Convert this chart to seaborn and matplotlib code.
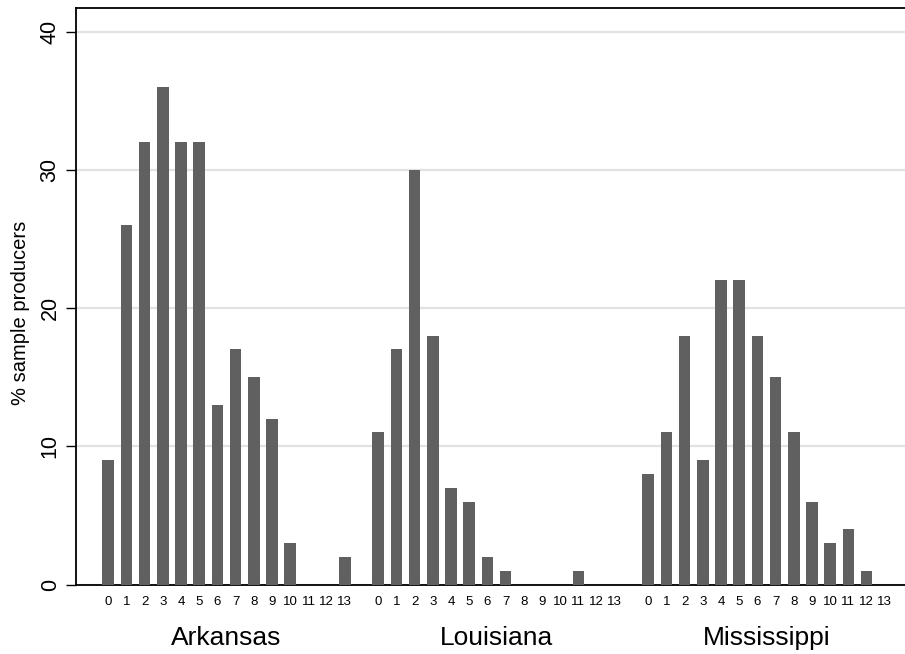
import numpy as np
import pandas as pd
import matplotlib
matplotlib.use("Agg")
import matplotlib.pyplot as plt
import matplotlib.transforms as mtransforms
import seaborn as sns

# ---- data ----
states = ["Arkansas", "Louisiana", "Mississippi"]
categories = ["0", "1", "2", "3", "4", "5", "6", "7", "8", "9", "10", "11", "12", "13"]
arkansas = [9, 26, 32, 36, 32, 32, 13, 17, 15, 12, 3, 0, 0, 2]
louisiana = [11, 17, 30, 18, 7, 6, 2, 1, 0, 0, 0, 1, 0, 0]
mississippi = [8, 11, 18, 9, 22, 22, 18, 15, 11, 6, 3, 4, 1, 0]
y_ticks = [0, 10, 20, 30, 40]
y_label = "% sample producers"

# ---- layout ----
group_offset = 14.83
rows = []
for gi, (st, vals) in enumerate(zip(states, [arkansas, louisiana, mississippi])):
    for ci, (cat, v) in enumerate(zip(categories, vals)):
        rows.append({"state": st, "cat": cat, "pos": gi * group_offset + ci, "value": v})
df = pd.DataFrame(rows)

sns.set_style("white")
plt.rcParams["font.family"] = ["Liberation Sans", "DejaVu Sans"]
for k in ["text.color", "axes.labelcolor", "xtick.color", "ytick.color"]:
    plt.rcParams[k] = "black"

W, H = 905, 654
fig = plt.figure(figsize=(W / 100, H / 100), dpi=100)
left_px, right_px, top_px, bottom_px = 76, 917, 8, 584.5
ax = fig.add_axes([left_px / W, (H - bottom_px) / H, (right_px - left_px) / W, (bottom_px - top_px) / H])

sns.barplot(data=df, x="pos", y="value", native_scale=True, width=0.64,
            color="#606060", saturation=1, edgecolor="none", errorbar=None, ax=ax, zorder=3)

ax.set_xlim(-1.77, 2 * group_offset + 13 + 1.77)
ax.set_ylim(0, 41.7)

ax.set_yticks(y_ticks)
ax.set_yticklabels([str(t) for t in y_ticks], rotation=90, va="center", fontsize=15.5)
ax.yaxis.grid(True, color="#e2e2e2", linewidth=1.6, zorder=0)
ax.xaxis.grid(False)
ax.set_axisbelow(True)
ax.tick_params(axis="y", direction="out", length=7, width=1.0, color="black", pad=4, left=True)

ax.set_xticks(df["pos"].values)
ax.set_xticklabels(df["cat"].values, fontsize=9.5)
ax.tick_params(axis="x", length=0, pad=8)

ax.set_xlabel("")
ax.set_ylabel(y_label, fontsize=14.5)
ax.yaxis.set_label_coords((30 - left_px) / (right_px - left_px), (bottom_px - 313) / (bottom_px - top_px))

for s in ["left", "bottom", "top"]:
    ax.spines[s].set_visible(True)
    ax.spines[s].set_color("black")
    ax.spines[s].set_linewidth(1.3)
ax.spines["right"].set_visible(False)

# group labels
trans = mtransforms.blended_transform_factory(ax.transData, fig.transFigure)
for gi, st in enumerate(states):
    ax.text(gi * group_offset + 6.5, 1 - 638 / H, st, transform=trans,
            ha="center", va="center", fontsize=19)

fig.savefig("out.png", dpi=100)
